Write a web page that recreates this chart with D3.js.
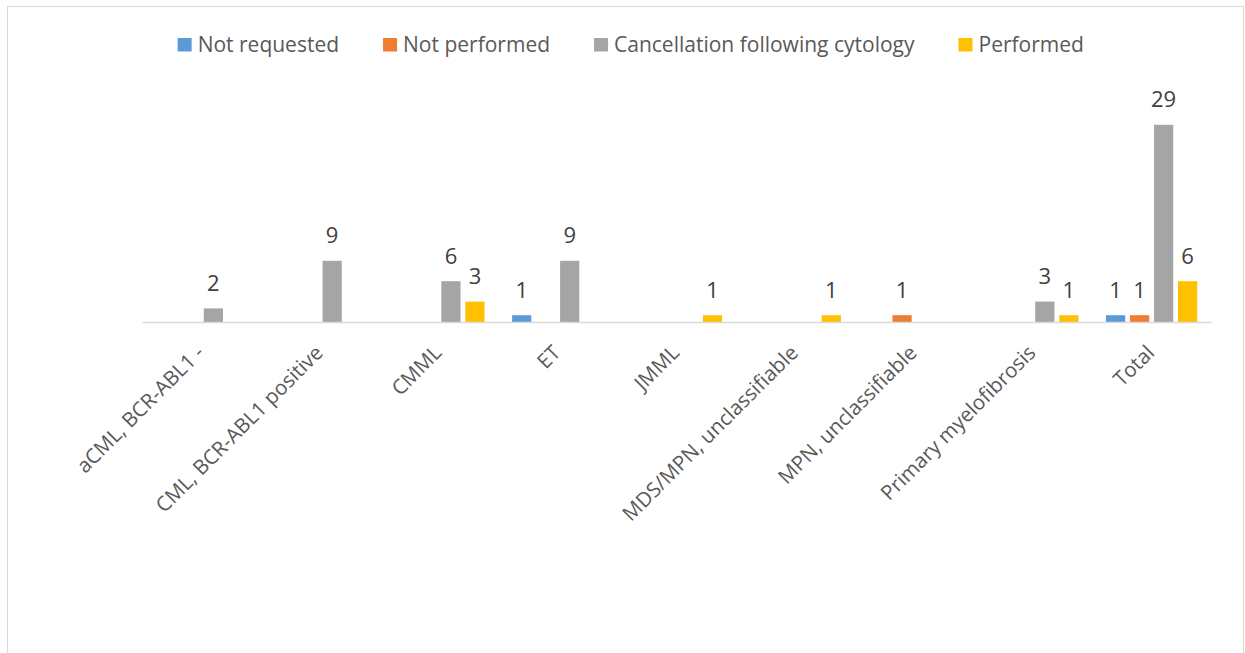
<!DOCTYPE html>
<html>
<head>
<meta charset="utf-8">
<script src="https://cdn.jsdelivr.net/npm/d3@7/dist/d3.min.js"></script>
<style>
  html, body { margin: 0; padding: 0; background: #ffffff; }
  svg { display: block; }
  text { font-family: "Open Sans", Lato, sans-serif; }
</style>
</head>
<body>
<svg id="chart" width="1245" height="653"></svg>
<script>
// Biopsy status by diagnosis
const categories = [
  "aCML, BCR-ABL1 -",
  "CML, BCR-ABL1 positive",
  "CMML",
  "ET",
  "JMML",
  "MDS/MPN, unclassifiable",
  "MPN, unclassifiable",
  "Primary myelofibrosis",
  "Total"
];
const seriesNames = ["Not requested", "Not performed", "Cancellation following cytology", "Performed"];
const notRequested = [0, 0, 0, 1, 0, 0, 0, 0, 1];
const notPerformed = [0, 0, 0, 0, 0, 0, 1, 0, 1];
const cancellation = [2, 9, 6, 9, 0, 0, 0, 3, 29];
const performed    = [0, 0, 3, 0, 1, 1, 0, 1, 6];
const seriesColors = ["#5B9BD5", "#ED7D31", "#A5A5A5", "#FFC000"];

const seriesValues = [notRequested, notPerformed, cancellation, performed];
const series = seriesNames.map((name, i) => ({ name, color: seriesColors[i], values: seriesValues[i] }));

const svg = d3.select("#chart");

// chart frame
svg.append("rect")
  .attr("x", 7.5).attr("y", 6.5)
  .attr("width", 1236).attr("height", 700)
  .attr("fill", "#ffffff")
  .attr("stroke", "#D9D9D9").attr("stroke-width", 1);

const plot = { left: 142, right: 1211, top: 84, bottom: 322 };

const x0 = d3.scaleBand()
  .domain(categories)
  .range([plot.left, plot.right])
  .padding(0);

const y = d3.scaleLinear()
  .domain([0, 35])
  .range([plot.bottom, plot.top]);

// series positions inside each category cluster
const clusterHalf = 48;
const x1 = d3.scaleBand()
  .domain(seriesNames)
  .range([-clusterHalf, clusterHalf])
  .paddingInner(0.2)
  .paddingOuter(0.1);

const cx = c => x0(c) + x0.bandwidth() / 2;

// bars
const groups = svg.append("g").attr("class", "bars")
  .selectAll("g")
  .data(series)
  .join("g")
  .attr("fill", d => d.color);

groups.selectAll("rect")
  .data(s => s.values.map((v, i) => ({ s: s.name, c: categories[i], v })).filter(d => d.v > 0))
  .join("rect")
  .attr("x", d => cx(d.c) + x1(d.s))
  .attr("width", x1.bandwidth())
  .attr("y", d => y(d.v))
  .attr("height", d => y(0) - y(d.v));

// category axis
const xAxis = d3.axisBottom(x0).tickSize(0).tickPadding(0);
const axisG = svg.append("g")
  .attr("transform", `translate(0,${plot.bottom})`)
  .call(xAxis);
axisG.select(".domain")
  .attr("stroke", "#D9D9D9")
  .attr("stroke-width", 1.5);
axisG.selectAll(".tick text")
  .attr("fill", "#595959")
  .attr("font-size", 20.5)
  .attr("font-family", "'Open Sans', sans-serif")
  .attr("text-anchor", "end")
  .attr("dy", null)
  .attr("y", 0)
  .attr("transform", "translate(4,32) rotate(-45)");

// value labels
const labels = svg.append("g").attr("class", "labels");
series.forEach(s => {
  labels.selectAll(null)
    .data(s.values.map((v, i) => ({ c: categories[i], v })).filter(d => d.v > 0))
    .join("text")
    .attr("x", d => cx(d.c) + x1(s.name) + x1.bandwidth() / 2)
    .attr("y", d => y(d.v) - 17.5)
    .attr("text-anchor", "middle")
    .attr("fill", "#404040")
    .attr("font-size", 22)
    .text(d => d.v);
});

// legend
const legend = svg.append("g").attr("class", "legend");
const items = legend.selectAll("g")
  .data(series)
  .join("g");
items.append("rect")
  .attr("x", 0).attr("y", 38)
  .attr("width", 14).attr("height", 13.5)
  .attr("fill", d => d.color);
items.append("text")
  .attr("x", 20).attr("y", 51.5)
  .attr("fill", "#595959")
  .attr("font-size", 21)
  .text(d => d.name);

const gap = 44;
let offset = 0;
const widths = [];
items.each(function () {
  const w = 20 + d3.select(this).select("text").node().getComputedTextLength();
  widths.push(w);
});
const totalW = d3.sum(widths) + gap * (widths.length - 1);
const legendCenter = 630.75;
const start = legendCenter - totalW / 2;
items.attr("transform", (d, i) => {
  const tx = start + offset;
  offset += widths[i] + gap;
  return `translate(${tx},0)`;
});
</script>
</body>
</html>
